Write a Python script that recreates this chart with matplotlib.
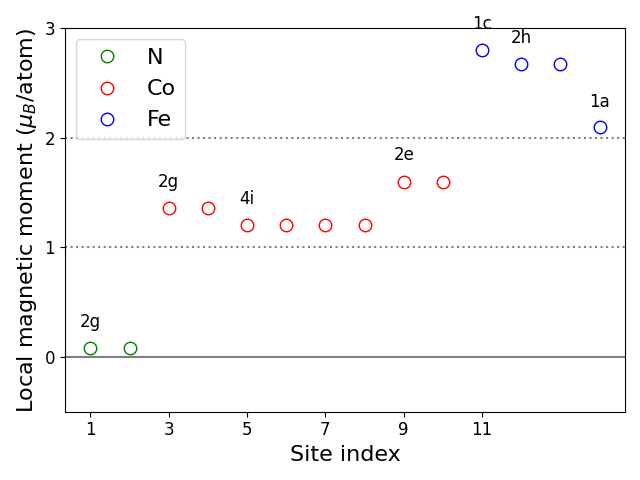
import matplotlib
matplotlib.use("Agg")
import matplotlib.pyplot as plt

n_sites = [1, 2]
n_vals = [0.08, 0.08]
co_sites = [3, 4, 5, 6, 7, 8, 9, 10]
co_vals = [1.36, 1.36, 1.20, 1.20, 1.20, 1.20, 1.60, 1.60]
fe_sites = [11, 12, 13, 14]
fe_vals = [2.80, 2.67, 2.67, 2.10]

label_x = [1, 3, 5, 9, 11, 12, 14]
label_y = [0.32, 1.60, 1.44, 1.84, 3.04, 2.91, 2.33]
label_txt = ["2g", "2g", "4i", "2e", "1c", "2h", "1a"]

xticks = [1, 3, 5, 7, 9, 11]

fig, ax = plt.subplots(figsize=(6.4, 4.8), dpi=100)
ax.axhline(0, color="gray", lw=1.5)
ax.axhline(1, color="gray", ls=":", lw=1.5)
ax.axhline(2, color="gray", ls=":", lw=1.5)

ax.plot(n_sites, n_vals, "o", mfc="none", mec="green", ms=9, label="N")
ax.plot(co_sites, co_vals, "o", mfc="none", mec="red", ms=9, label="Co")
ax.plot(fe_sites, fe_vals, "o", mfc="none", mec="blue", ms=9, label="Fe")

for x, y, t in zip(label_x, label_y, label_txt):
    ax.text(x, y, t, ha="center", va="center", fontsize=12)

ax.set_xlim(0.35, 14.65)
ax.set_ylim(-0.5, 3)
ax.set_xticks(xticks)
ax.set_yticks([0, 1, 2, 3])
ax.tick_params(labelsize=12)
ax.set_xlabel("Site index", fontsize=16)
ax.set_ylabel(r"Local magnetic moment ($\mu_B$/atom)", fontsize=16)
ax.legend(loc="upper left", fontsize=16)
fig.tight_layout()
fig.savefig("out.png")
